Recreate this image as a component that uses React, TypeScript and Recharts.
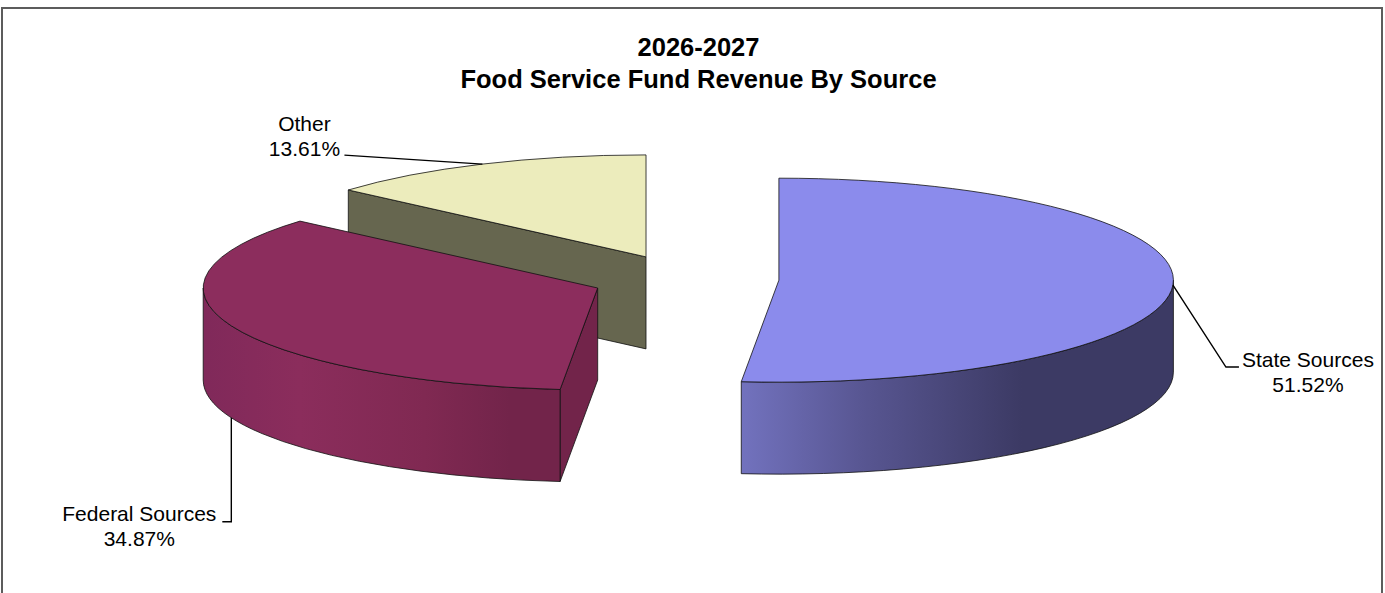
import React from 'react';
import { PieChart, Pie } from 'recharts';

const categories = ['Other', 'Federal Sources', 'State Sources'];
const shares = [13.61, 34.87, 51.52];

const chartData = categories.map((name, i) => ({ name, value: shares[i] }));

// 3D projection of the pie
const TILT = 0.2585;
const DEPTH = 92;
const EXPLODE = 94;

const sliceStyles: Record<string, any> = {
  'Other': { top: '#ECECBC', side: '#66664F', wall: [] },
  'Federal Sources': {
    top: '#8C2D5D',
    side: '#72244A',
    wall: [
      [0, '#80295A'],
      [0.27, '#8B2D5C'],
      [0.62, '#802952'],
      [0.86, '#72244A'],
      [1, '#72244A'],
    ],
  },
  'State Sources': {
    top: '#8B8BEC',
    side: '#3C3A64',
    wall: [
      [0, '#7272BE'],
      [0.28, '#585692'],
      [0.65, '#3C3A64'],
      [1, '#3C3A64'],
    ],
  },
};

// leader line and text placement, relative to the rim point at the slice's mid angle
const callouts: Record<string, any> = {
  'Other': { drop: 0, elbow: [-138, -9], end: [-138, -9], textX: -178, nameY: -33, valueY: -8 },
  'Federal Sources': { drop: 92, elbow: [0, 196], end: [-9, 196], textX: -92, nameY: 195, valueY: 220 },
  'State Sources': { drop: 0, elbow: [53, 82], end: [66, 82], textX: 135, nameY: 82, valueY: 107 },
};

const rad = (deg: number) => (deg * Math.PI) / 180;

// where a slice's apex lands once it is pulled out along its mid angle
const sliceCenter = (cx: number, cy: number, midAngle: number) => ({
  x: cx + EXPLODE * Math.cos(rad(midAngle)),
  y: cy - EXPLODE * TILT * Math.sin(rad(midAngle)),
});

const Slice3D = (props: any) => {
  const { cx, cy, outerRadius: r, startAngle, endAngle, midAngle, name } = props;
  const style = sliceStyles[name];
  const c = sliceCenter(cx, cy, midAngle);
  const ry = r * TILT;
  const pt = (a: number, drop = 0) => ({
    x: c.x + r * Math.cos(rad(a)),
    y: c.y - ry * Math.sin(rad(a)) + drop,
  });

  const s = pt(startAngle);
  const e = pt(endAngle);
  const large = endAngle - startAngle > 180 ? 1 : 0;
  const topPath = `M${c.x},${c.y} L${s.x},${s.y} A${r},${ry} 0 ${large} 0 ${e.x},${e.y} Z`;

  // flat cut faces, only the ones turned towards the viewer
  const flatWalls = [] as string[];
  const flat = (a: number) => {
    const p = pt(a);
    return `M${c.x},${c.y} L${p.x},${p.y} L${p.x},${p.y + DEPTH} L${c.x},${c.y + DEPTH} Z`;
  };
  if (Math.cos(rad(startAngle)) > 1e-6) flatWalls.push(flat(startAngle));
  if (Math.cos(rad(endAngle)) < -1e-6) flatWalls.push(flat(endAngle));

  // rounded outer wall on the front half of the ellipse
  const a1 = Math.max(startAngle, 180);
  const a2 = Math.min(endAngle, 360);
  let wallPath = '';
  if (a2 > a1) {
    const p1 = pt(a1);
    const p2 = pt(a2);
    wallPath =
      `M${p1.x},${p1.y} A${r},${ry} 0 0 0 ${p2.x},${p2.y} L${p2.x},${p2.y + DEPTH} ` +
      `A${r},${ry} 0 0 1 ${p1.x},${p1.y + DEPTH} Z`;
  }
  const gradId = `wall-${name.split(' ')[0]}`;

  return (
    <g>
      {wallPath && (
        <defs>
          <linearGradient id={gradId} x1="0" y1="0" x2="1" y2="0">
            {style.wall.map(([offset, color]: [number, string]) => (
              <stop key={offset} offset={offset} stopColor={color} />
            ))}
          </linearGradient>
        </defs>
      )}
      {flatWalls.map((d) => (
        <path key={d} d={d} fill={style.side} stroke="#111" strokeWidth={0.8} />
      ))}
      {wallPath && <path d={wallPath} fill={`url(#${gradId})`} stroke="#111" strokeWidth={0.8} />}
      <path d={topPath} fill={style.top} stroke="#111" strokeWidth={0.8} />
    </g>
  );
};

const renderCallout = (props: any) => {
  const { cx, cy, outerRadius: r, midAngle, name, value } = props;
  const spot = callouts[name];
  const c = sliceCenter(cx, cy, midAngle);
  const ax = c.x + r * Math.cos(rad(midAngle));
  const ay = c.y - r * TILT * Math.sin(rad(midAngle));
  const line = [
    [ax, ay + spot.drop],
    [ax + spot.elbow[0], ay + spot.elbow[1]],
    [ax + spot.end[0], ay + spot.end[1]],
  ]
    .map((p) => p.join(','))
    .join(' ');
  const textStyle = { fontFamily: '"Liberation Sans", Arial, sans-serif', fontSize: 21, fill: '#000' };
  return (
    <g key={name}>
      <polyline points={line} fill="none" stroke="#000" strokeWidth={1.4} />
      <text x={ax + spot.textX} y={ay + spot.nameY} textAnchor="middle" style={textStyle}>
        {name}
      </text>
      <text x={ax + spot.textX} y={ay + spot.valueY} textAnchor="middle" style={textStyle}>
        {value.toFixed(2)}%
      </text>
    </g>
  );
};

export default function App() {
  return (
    <div style={{ position: 'absolute', left: 0, top: 0, width: 1385, height: 593, overflow: 'hidden', background: '#fff' }}>
      <div style={{ position: 'absolute', left: 1, top: 7, width: 1378, height: 700, border: '2px solid #5c5c5c' }} />
      <div style={{
        position: 'absolute',
        left: 0,
        top: 31,
        width: 1397,
        textAlign: 'center',
        fontFamily: '"Liberation Sans", Arial, sans-serif',
        fontWeight: 'bold',
        fontSize: 25.5,
        lineHeight: '32px',
        color: '#000',
      }}>
        2026-2027
        <br />
        Food Service Fund Revenue By Source
      </div>
      <div style={{ position: 'absolute', left: 0, top: 0 }}>
        <PieChart width={1385} height={593} margin={{ top: 0, right: 0, bottom: 0, left: 0 }}>
          <Pie
            data={chartData}
            dataKey="value"
            nameKey="name"
            cx={685}
            cy={279}
            innerRadius={0}
            outerRadius={394.5}
            startAngle={90}
            endAngle={450}
            isAnimationActive={false}
            shape={Slice3D}
            label={renderCallout}
            labelLine={false}
          />
        </PieChart>
      </div>
    </div>
  );
}
